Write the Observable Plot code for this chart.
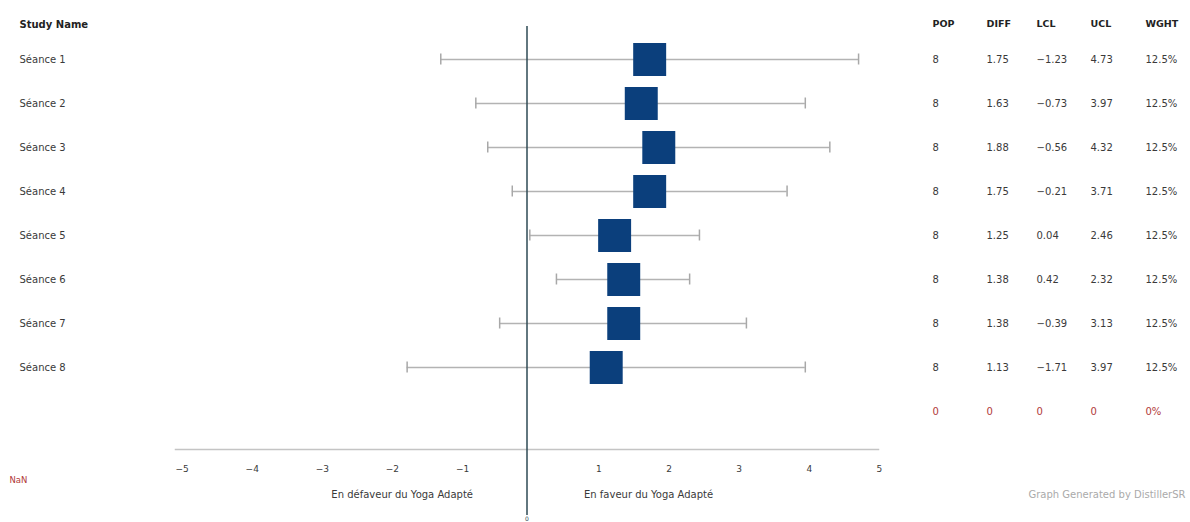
<!DOCTYPE html>
<html>
<head>
<meta charset="utf-8">
<script src="https://cdn.jsdelivr.net/npm/d3@7"></script>
<script src="https://cdn.jsdelivr.net/npm/@observablehq/plot@0.6"></script>
<style>
  html, body { margin: 0; padding: 0; background: #fff; }
  #chart { width: 1190px; height: 522px; overflow: hidden; }
</style>
</head>
<body>
<div id="chart"></div>
<script>
// Forest plot: mean difference per session with 95% confidence limits
const studies = ["Séance 1", "Séance 2", "Séance 3", "Séance 4", "Séance 5", "Séance 6", "Séance 7", "Séance 8"];
const pop  = [8, 8, 8, 8, 8, 8, 8, 8];
const diff = [1.75, 1.63, 1.88, 1.75, 1.25, 1.38, 1.38, 1.13];
const lcl  = [-1.23, -0.73, -0.56, -0.21, 0.04, 0.42, -0.39, -1.71];
const ucl  = [4.73, 3.97, 4.32, 3.71, 2.46, 2.32, 3.13, 3.97];
const wght = ["12.5%", "12.5%", "12.5%", "12.5%", "12.5%", "12.5%", "12.5%", "12.5%"];

// pooled row (empty estimate)
const pooledKey = "Pooled";
const pooledValues = ["0", "0", "0", "0", "0%"];

const columnHeaders = ["POP", "DIFF", "LCL", "UCL", "WGHT"];
const xTicks = [-5, -4, -3, -2, -1, 1, 2, 3, 4, 5];
const labelAgainst = "En défaveur du Yoga Adapté";
const labelFor = "En faveur du Yoga Adapté";
const credit = "Graph Generated by DistillerSR";
const missingLabel = "NaN";

const rows = studies.map((s, i) => ({
  study: s, pop: pop[i], diff: diff[i], lcl: lcl[i], ucl: ucl[i], wght: wght[i]
}));
const rowKeys = [...studies, pooledKey];

// table column offsets from the right edge of the plot frame
const colDx = [55, 109, 159, 213, 268];
const tableCells = rows.flatMap(r => [
  String(r.pop), r.diff.toFixed(2), r.lcl.toFixed(2), r.ucl.toFixed(2), r.wght
].map((v, j) => ({study: r.study, col: j, text: v.replace("-", "\u2212")})));
const pooledCells = pooledValues.map((v, j) => ({study: pooledKey, col: j, text: v}));

const font = "DejaVu Sans, Verdana, sans-serif";
const textColor = "#3a3a3a";
const fs = 10;

const marks = [
  // axis baseline
  Plot.frame({anchor: "bottom", stroke: "#c4c4c4", strokeWidth: 1.5, insetLeft: -1, insetRight: -1}),
  Plot.axisX({ticks: xTicks, tickSize: 0, tickPadding: 16, fontSize: 9, fill: textColor, textAnchor: "start", dx: -1,
    tickFormat: d => d3.format("d")(d).replace("-", "\u2212")}),
  // confidence intervals with end caps
  Plot.ruleY(rows, {y: "study", x1: "lcl", x2: "ucl", stroke: "#b3b3b3", strokeWidth: 1.5}),
  Plot.tickX(rows, {x: "lcl", y: "study", stroke: "#a8a8a8", strokeWidth: 1.5, insetTop: 16.5, insetBottom: 16.5}),
  Plot.tickX(rows, {x: "ucl", y: "study", stroke: "#a8a8a8", strokeWidth: 1.5, insetTop: 16.5, insetBottom: 16.5}),
  // line of no effect
  Plot.ruleX([0], {stroke: "#2e4a55", strokeWidth: 1.5, insetBottom: -66}),
  Plot.text([0], {x: d => d, frameAnchor: "bottom", dy: 67, text: d => String(d), fontSize: 6, fill: "#2e4a55", lineAnchor: "top"}),
  // point estimates
  Plot.dot(rows, {x: "diff", y: "study", symbol: "square", r: 18.6, fill: "#0b3f7c", stroke: "none"}),
  // study names
  Plot.text(["Study Name"], {frameAnchor: "top-left", dx: -157, dy: -6, text: d => d, textAnchor: "start", fontWeight: "bold", fontSize: fs, fill: "#222"}),
  Plot.text(rows, {y: "study", frameAnchor: "left", dx: -157, text: "study", textAnchor: "start", fontSize: fs, fill: textColor}),
  // statistics table
  ...columnHeaders.map((h, j) => Plot.text([h], {frameAnchor: "top-right", dx: colDx[j], dy: -6, text: d => d, textAnchor: "start", fontWeight: "bold", fontSize: 9.5, fill: "#222"})),
  ...colDx.map((dx, j) => Plot.text(tableCells.filter(c => c.col === j), {y: "study", frameAnchor: "right", dx, text: "text", textAnchor: "start", fontSize: fs, fill: textColor})),
  ...colDx.map((dx, j) => Plot.text(pooledCells.filter(c => c.col === j), {y: "study", frameAnchor: "right", dx, text: "text", textAnchor: "start", fontSize: fs, fill: "#b23a3a"})),
  // favour labels
  Plot.text([labelAgainst], {x: () => 0, frameAnchor: "bottom", dy: 48, dx: -54, text: d => d, textAnchor: "end", fontSize: fs, fill: textColor}),
  Plot.text([labelFor], {x: () => 0, frameAnchor: "bottom", dy: 48, dx: 57, text: d => d, textAnchor: "start", fontSize: fs, fill: textColor}),
  // footer texts
  Plot.text([missingLabel], {frameAnchor: "bottom-left", dx: -167, dy: 33, text: d => d, textAnchor: "start", fontSize: 8.5, fill: "#b23a3a"}),
  Plot.text([credit], {frameAnchor: "bottom-right", dx: 308, dy: 48, text: d => d, textAnchor: "end", fontSize: fs, fill: "#aaa"})
];

const chart = Plot.plot({
  width: 1190,
  height: 522,
  marginLeft: 176,
  marginRight: 313,
  marginTop: 26,
  marginBottom: 73,
  style: {fontFamily: font, background: "#fff"},
  x: {domain: [-5, 5], axis: null},
  y: {type: "band", domain: rowKeys, range: [33.7, 435.3], padding: 0, axis: null},
  marks
});
document.getElementById("chart").append(chart);
</script>
</body>
</html>
